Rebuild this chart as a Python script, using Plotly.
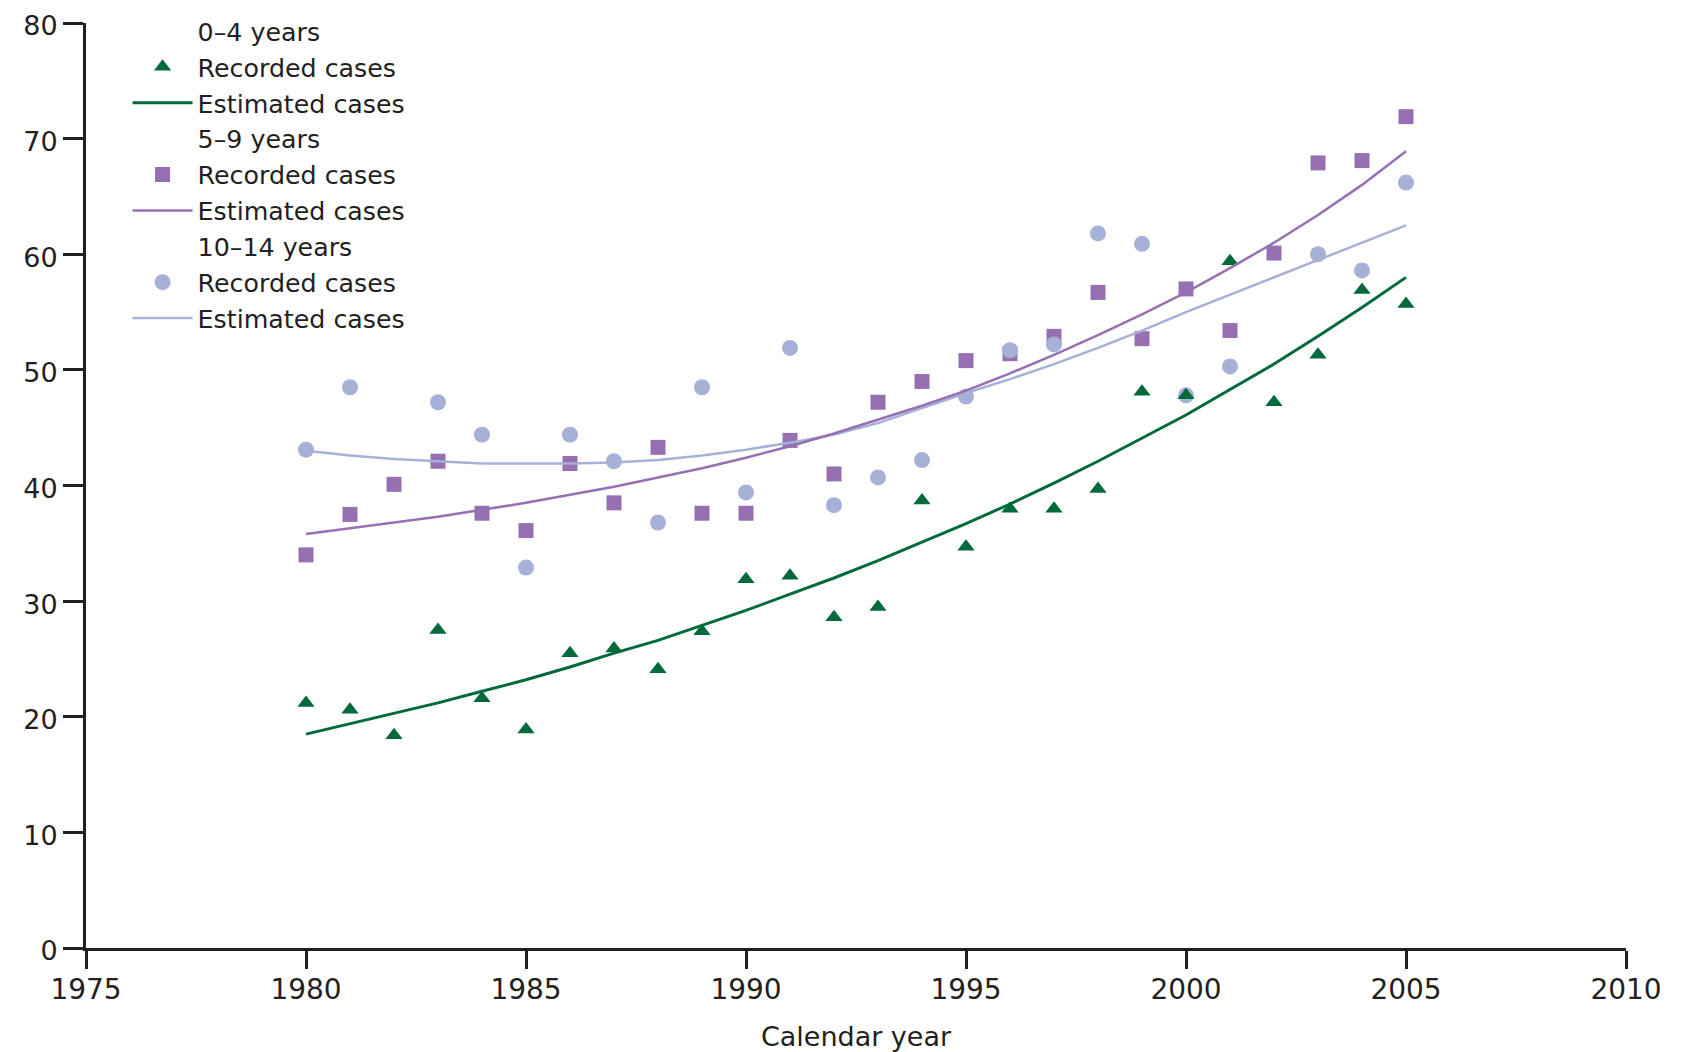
import plotly.graph_objects as go

# ---------------- data ----------------
years = list(range(1980, 2006))

rec_0_4 = [21.2, 20.6, 18.4, 27.5, 21.6, 18.9, 25.5, 25.9, 24.1, 27.4,
           31.9, 32.2, 28.6, 29.5, 38.7, 34.7, 38.0, 38.0, 39.7, 48.1,
           47.8, 59.4, 47.2, 51.3, 56.9, 55.7]
est_0_4 = [18.5, 19.4, 20.3, 21.2, 22.2, 23.2, 24.3, 25.5, 26.6, 27.9,
           29.2, 30.6, 32.0, 33.5, 35.1, 36.7, 38.4, 40.2, 42.1, 44.1,
           46.1, 48.3, 50.5, 52.9, 55.4, 58.0]

rec_5_9 = [34.0, 37.5, 40.1, 42.1, 37.6, 36.1, 41.9, 38.5, 43.3, 37.6,
           37.6, 43.9, 41.0, 47.2, 49.0, 50.8, 51.4, 52.9, 56.7, 52.7,
           57.0, 53.4, 60.1, 67.9, 68.1, 71.9]
est_5_9 = [35.8, 36.3, 36.8, 37.3, 37.9, 38.5, 39.2, 39.9, 40.7, 41.5,
           42.4, 43.4, 44.5, 45.7, 46.9, 48.2, 49.7, 51.3, 53.0, 54.8,
           56.7, 58.8, 61.0, 63.4, 66.0, 68.9]

rec_10_14 = [43.1, 48.5, None, 47.2, 44.4, 32.9, 44.4, 42.1, 36.8, 48.5,
             39.4, 51.9, 38.3, 40.7, 42.2, 47.7, 51.7, 52.2, 61.8, 60.9,
             47.8, 50.3, None, 60.0, 58.6, 66.2]
est_10_14 = [43.0, 42.6, 42.3, 42.1, 41.9, 41.9, 41.9, 42.0, 42.2, 42.6,
             43.1, 43.7, 44.4, 45.4, 46.7, 48.0, 49.2, 50.5, 51.9, 53.4,
             55.0, 56.5, 58.0, 59.5, 61.0, 62.5]

group_titles = ["0\u20134 years", "5\u20139 years", "10\u201314 years"]
x_ticks = [1975, 1980, 1985, 1990, 1995, 2000, 2005, 2010]
y_ticks = [0, 10, 20, 30, 40, 50, 60, 70, 80]

# ---------------- style ----------------
GREEN = "#006a3a"
PURPLE = "#9670b2"
LBLUE = "#a6b1d8"
INK = "#231f20"
FONT = "DejaVu Sans"

fig = go.Figure()

# markers (purple under light blue under green)
fig.add_trace(go.Scatter(x=years, y=rec_5_9, mode="markers", name="Recorded cases",
                         marker=dict(symbol="square", size=15, color=PURPLE),
                         legendrank=5))
fig.add_trace(go.Scatter(x=years, y=rec_10_14, mode="markers", name="Recorded cases",
                         marker=dict(symbol="circle", size=16, color=LBLUE),
                         legendrank=8))
fig.add_trace(go.Scatter(x=years, y=rec_0_4, mode="markers", name="Recorded cases",
                         marker=dict(symbol="triangle-up", size=15, color=GREEN),
                         legendrank=2))

# estimated curves
fig.add_trace(go.Scatter(x=years, y=est_10_14, mode="lines", name="Estimated cases",
                         line=dict(color=LBLUE, width=2.5), legendrank=9))
fig.add_trace(go.Scatter(x=years, y=est_5_9, mode="lines", name="Estimated cases",
                         line=dict(color=PURPLE, width=2.5), legendrank=6))
fig.add_trace(go.Scatter(x=years, y=est_0_4, mode="lines", name="Estimated cases",
                         line=dict(color=GREEN, width=3), legendrank=3))

# legend group headers (empty traces, invisible symbol)
for rank, title in zip([1, 4, 7], group_titles):
    fig.add_trace(go.Scatter(x=[None], y=[None], mode="markers", name=title,
                             marker=dict(color="rgba(0,0,0,0)", size=1),
                             hoverinfo="skip", legendrank=rank))

fig.update_layout(
    width=1675, height=1044,
    margin=dict(l=78, r=57, t=15, b=104, pad=0, autoexpand=False),
    paper_bgcolor="white", plot_bgcolor="white",
    font=dict(family=FONT, size=27, color=INK),
    showlegend=True,
    legend=dict(x=0.027, y=1.0, xanchor="left", yanchor="top", yref="container",
                bgcolor="rgba(0,0,0,0)", borderwidth=0, itemwidth=60,
                tracegroupgap=0, font=dict(family=FONT, size=25.3, color=INK),
                traceorder="normal", itemsizing="trace"),
    xaxis=dict(range=[1975, 2010], tickvals=x_ticks, ticktext=[str(v) for v in x_ticks],
               showgrid=False, zeroline=False, showline=True, linecolor=INK, linewidth=3,
               ticks="outside", ticklen=18, tickwidth=2.5, tickcolor=INK,
               ticklabelstandoff=-4, automargin=False, ticklabeloverflow="allow",
               tickfont=dict(family=FONT, size=28, color=INK),
               title=dict(text="Calendar year", standoff=26,
                          font=dict(family=FONT, size=27, color=INK))),
    yaxis=dict(range=[0, 80], tickvals=y_ticks, ticktext=[str(v) for v in y_ticks],
               showgrid=False, zeroline=False, showline=True, linecolor=INK, linewidth=3,
               ticks="outside", ticklen=20, tickwidth=2.5, tickcolor=INK,
               automargin=False, ticklabeloverflow="allow", ticklabelshift=3,
               tickfont=dict(family=FONT, size=27, color=INK)),
)

fig.write_html("out.html")
